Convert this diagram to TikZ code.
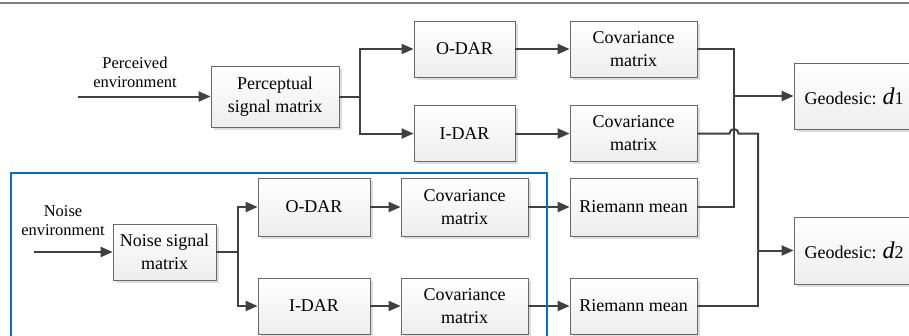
\documentclass[tikz,border=0pt]{standalone}
\usepackage{fontspec}
\setmainfont{Liberation Serif}
\usetikzlibrary{arrows.meta,shadows}
\definecolor{linegray}{RGB}{64,64,64}
\definecolor{framegray}{RGB}{105,105,105}
\definecolor{panelblue}{RGB}{0,112,192}
\tikzset{
  block/.style={draw=framegray, line width=0.8pt, top color=white, bottom color=gray!14,
    drop shadow={shadow xshift=2.5pt, shadow yshift=-2.5pt, fill=gray!45, opacity=0.6},
    align=center, inner sep=0pt, font=\fontsize{18}{23}\selectfont},
  link/.style={draw=linegray, line width=2pt, -{Triangle[length=12pt,width=10pt]}},
  wire/.style={draw=linegray, line width=2pt},
  envlabel/.style={align=center, font=\fontsize{16.5}{19}\selectfont}
}
\begin{document}
\begin{tikzpicture}[x=1pt,y=-1pt]
  \useasboundingbox (0,0) rectangle (909,335);
  \clip (0,0) rectangle (909,335);
  \draw[gray, line width=1.5pt] (0,3) -- (909,3);
  % perceived branch
  \node[envlabel] (penv) at (135,72) {Perceived\\environment};
  \coordinate (pin) at (78,96.5);
  \node[block, minimum width=128pt, minimum height=61pt] (psm) at (275,96.5) {Perceptual\\signal matrix};
  \node[block, minimum width=101pt, minimum height=56pt] (odar1) at (464.5,49) {O-DAR};
  \node[block, minimum width=101pt, minimum height=56pt] (idar1) at (464.5,133.5) {I-DAR};
  \node[block, minimum width=127pt, minimum height=56pt] (cov1) at (633.5,49) {Covariance\\matrix};
  \node[block, minimum width=127pt, minimum height=56pt] (cov2) at (633.5,133.5) {Covariance\\matrix};
  \node[block, minimum width=120pt, minimum height=66pt] (geo1) at (854,96) {Geodesic: {\fontsize{24}{24}\selectfont\itshape d}1};
  % noise branch
  \node[envlabel] (nenv) at (63,221) {Noise\\environment};
  \coordinate (nin) at (34,252);
  \node[block, minimum width=103pt, minimum height=56pt] (nsm) at (164.5,252) {Noise signal\\matrix};
  \node[block, minimum width=112pt, minimum height=58pt] (odar2) at (314,207) {O-DAR};
  \node[block, minimum width=112pt, minimum height=56pt] (idar2) at (314,306) {I-DAR};
  \node[block, minimum width=127pt, minimum height=58pt] (cov3) at (464.5,207) {Covariance\\matrix};
  \node[block, minimum width=127pt, minimum height=56pt] (cov4) at (464.5,306) {Covariance\\matrix};
  \node[block, minimum width=127pt, minimum height=58pt] (rm1) at (633.5,207) {Riemann mean};
  \node[block, minimum width=127pt, minimum height=56pt] (rm2) at (633.5,306) {Riemann mean};
  \node[block, minimum width=120pt, minimum height=67pt] (geo2) at (854,250.5) {Geodesic: {\fontsize{24}{24}\selectfont\itshape d}2};
  % connectors
  \coordinate (psplit) at (360,96.5);
  \coordinate (nsplit) at (238,252);
  \coordinate (jtop) at (734,96);
  \coordinate (jbot) at (758,250.5);
  \draw[link] (pin) -- (psm);
  \draw[wire] (psm) -- (psplit);
  \draw[link] (psplit) |- (odar1);
  \draw[link] (psplit) |- (idar1);
  \draw[link] (odar1) -- (cov1);
  \draw[link] (idar1) -- (cov2);
  \draw[link] (nin) -- (nsm);
  \draw[wire] (nsm) -- (nsplit);
  \draw[link] (nsplit) |- (odar2);
  \draw[link] (nsplit) |- (idar2);
  \draw[link] (odar2) -- (cov3);
  \draw[link] (idar2) -- (cov4);
  \draw[link] (cov3) -- (rm1);
  \draw[link] (cov4) -- (rm2);
  \draw[wire] (cov1.east) -| (jtop);
  \draw[wire] (rm1.east) -| (jtop);
  \draw[link] (jtop) -- (geo1);
  \draw[wire] (cov2.east) -- ([xshift=-4.5pt]cov2.east -| jtop) arc[start angle=180, end angle=0, radius=4.5pt] -| (jbot);
  \draw[wire] (rm2.east) -| (jbot);
  \draw[link] (jbot) -- (geo2);
  % noise panel
  \draw[panelblue, line width=1.2pt] (11,345) |- (547,173) -- (547,345);
\end{tikzpicture}
\end{document}
